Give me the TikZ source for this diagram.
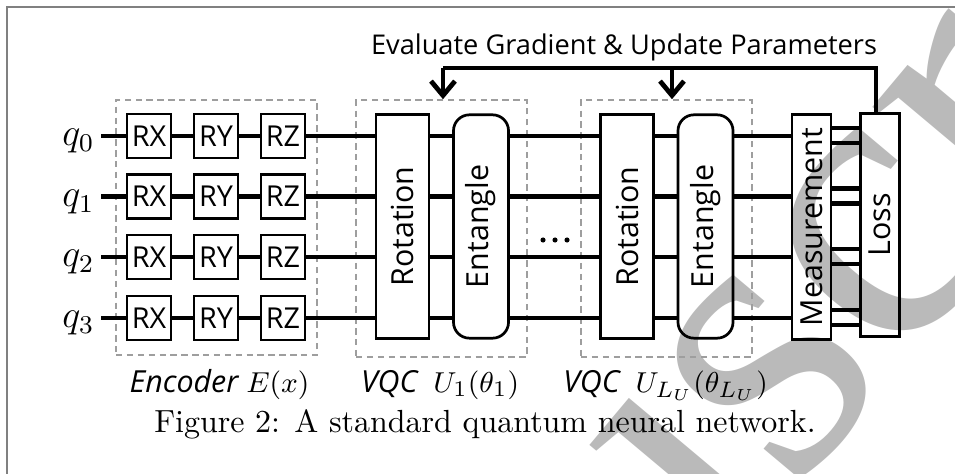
\documentclass[tikz,border=0pt]{standalone}
\usepackage{fontspec}
\setsansfont{Open Sans}
\newfontfamily\wmfont{Liberation Serif}
\usetikzlibrary{arrows.meta}
\begin{document}
\begin{tikzpicture}[x=0.3125pt,y=-0.3125pt,
  gate/.style={draw, line width=0.75pt, minimum width=13.8pt, minimum height=13.8pt, inner sep=0pt, font=\sffamily\fontsize{9}{10}\selectfont},
  rotbox/.style={draw, line width=0.85pt, minimum width=16.5pt, minimum height=69.8pt, inner sep=0pt, font=\sffamily\fontsize{9.5}{11}\selectfont},
  entbox/.style={rotbox, minimum width=17.2pt, rounded corners=5pt},
  wire/.style={line width=1.4pt},
  fb/.style={line width=1.5pt},
  fbarrow/.style={fb, -{Straight Barb[length=4.5pt, width=7.5pt]}},
  grp/.style={draw=black!38, dash pattern=on 2pt off 1.4pt, line width=0.5pt, inner sep=0pt},
  qlab/.style={font=\fontsize{12}{14}\selectfont, anchor=base east, inner sep=0pt},
  blab/.style={font=\sffamily\itshape\fontsize{9.5}{11}\selectfont, anchor=base, inner sep=0pt},
]
\useasboundingbox (0,0) rectangle (955,474);
\begin{scope}
\clip (0,0) rectangle (955,474);
\node[rotate=50, anchor=base west, text=black!27, font=\wmfont\fontsize{128}{128}\selectfont, inner sep=0pt] (wm) at (178,1228) {Manuscript};
\draw[black!50, line width=0.65pt] (7,7) rectangle (1000,520);
\end{scope}

% dashed groups
\node[grp, minimum width=62.8pt, minimum height=79.7pt] (enc) at (216.5,227.5) {};
\node[grp, minimum width=53.4pt, minimum height=80.3pt] (vqc1) at (441.5,228.5) {};
\node[grp, minimum width=53.4pt, minimum height=80.3pt] (vqc2) at (666.5,228.5) {};

% big blocks
\node[rotbox] (rot1) at (402.5,226.5) {\rotatebox{90}{Rotation}};
\node[entbox] (ent1) at (481,226.5) {\rotatebox{90}{Entangle}};
\node[rotbox] (rot2) at (627,226.5) {\rotatebox{90}{Rotation}};
\node[entbox] (ent2) at (705.5,226.5) {\rotatebox{90}{Entangle}};
\node[rotbox, minimum width=12.2pt, minimum height=70.3pt] (meas) at (811.5,227) {\rotatebox{90}{Measurement}};
\node[rotbox, minimum width=12.2pt, minimum height=69.7pt] (loss) at (880,225) {\rotatebox{90}{Loss}};

% qubits
\foreach \i/\y in {0/136,1/196.5,2/257,3/318} {
  \coordinate (s\i) at (101,\y);
  \node[qlab] (q\i) at (95,\y+10) {$q_\i$};
  \node[gate] (rx\i) at (149,\y) {RX};
  \node[gate] (ry\i) at (216,\y) {RY};
  \node[gate] (rz\i) at (283,\y) {RZ};
  \draw[wire] (s\i) -- (rx\i.west);
  \draw[wire] (rx\i.east) -- (ry\i.west);
  \draw[wire] (ry\i.east) -- (rz\i.west);
  \draw[wire] (rz\i.east) -- (rz\i.east -| rot1.west);
  \draw[wire] (rz\i.east -| rot1.east) -- (rz\i.east -| ent1.west);
  \draw[wire] (rz\i.east -| ent1.east) -- (rz\i.east -| rot2.west);
  \draw[wire] (rz\i.east -| rot2.east) -- (rz\i.east -| ent2.west);
  \draw[wire] (rz\i.east -| ent2.east) -- (rz\i.east -| meas.west);
  \coordinate (ma\i) at (0,\y-8);
  \coordinate (mb\i) at (0,\y+7);
  \draw[wire] (meas.east |- ma\i) -- (loss.west |- ma\i);
  \draw[wire] (meas.east |- mb\i) -- (loss.west |- mb\i);
}

% dots
\fill (543,240) circle[radius=0.8pt];
\fill (555,240) circle[radius=0.8pt];
\fill (567,240) circle[radius=0.8pt];

% feedback
\coordinate (fbR) at (876,68);
\coordinate (fbL) at (443,68);
\coordinate (fbM) at (672,68);
\draw[fb] (fbR |- loss.north) -- (fbR) -- (fbL);
\draw[fbarrow] (fbL) -- (fbL |- vqc1.north);
\draw[fbarrow] (fbM) -- (fbM |- vqc2.north);
\node[anchor=base, font=\sffamily\fontsize{8.5}{10}\selectfont, inner sep=0pt] (ev) at (624,55) {Evaluate Gradient \& Update Parameters};

% labels
\node[blab] (encl) at (219.5,392) {Encoder $E(x)$};
\node[blab] (vqc1l) at (440,392) {VQC~~$U_1(\theta_1)$};
\node[blab] (vqc2l) at (665.5,392) {VQC~~$U_{L_U}(\theta_{L_U})$};
\node[anchor=base, font=\fontsize{10}{12}\selectfont, inner sep=0pt] (cap) at (485,432) {Figure 2: A standard quantum neural network.};
\end{tikzpicture}
\end{document}
